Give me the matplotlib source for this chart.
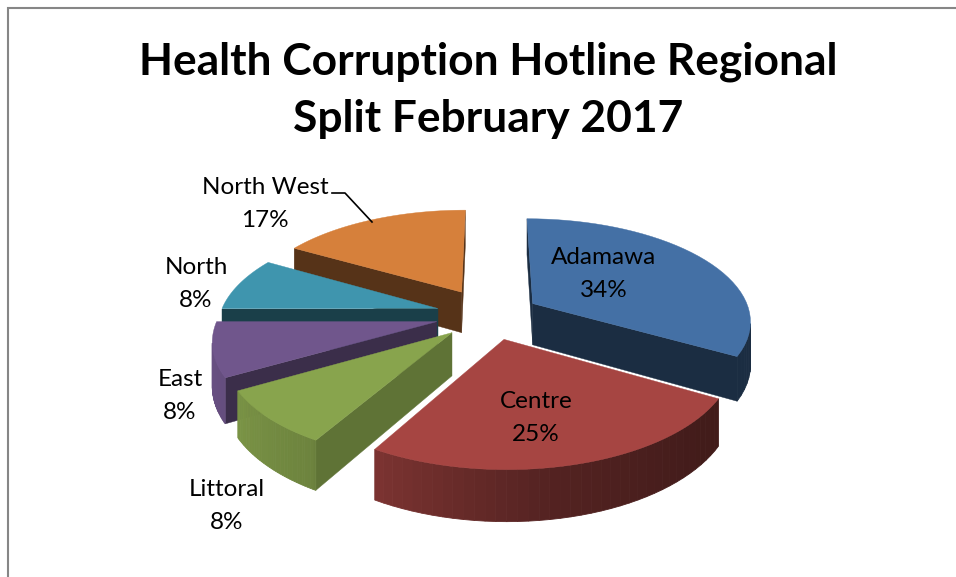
import matplotlib
matplotlib.use("Agg")
import matplotlib.pyplot as plt
import matplotlib.colors as mcolors
import numpy as np

# Data
regions = ['Adamawa', 'Centre', 'Littoral', 'East', 'North', 'North West']
share_labels = [34, 25, 8, 8, 8, 17]
slice_sizes = [4, 3, 1, 1, 1, 2]
title_lines = ['Health Corruption Hotline Regional', 'Split February 2017']

# Styling
top_colors = ['#4470A5', '#A64542', '#88A44D', '#70568C', '#3F95AE', '#D6803B']
side_factor = [0.40, 0.40, 0.70, 0.53, 0.42, 0.40]
explode = [0.23, 0.24, 0.24, 0.25, 0.25, 0.27]
# label position in pixels, one per slice
label_pos = [(604, 274), (536, 418), (227, 506), (180, 396), (196, 284), (265, 204)]

W, H = 956, 577
CX, CY = 490, 315      # pie centre on the page
R = 218                # pie radius
SQUASH = 0.465         # vertical squash of the tilted pie
PERSP = 6.4            # perspective distance, in radii
THICK = 42             # height of the pie


def project(u, v, z=0.0):
    # u is right, v is away from viewer, both in radii
    s = PERSP / (PERSP + v)
    return CX + u * s * R, CY - v * SQUASH * s * R + z * THICK * s


def shade(color, f):
    return tuple(np.array(mcolors.to_rgb(color)) * f)


def wall_shade(a):
    # brightness of the outer wall, read round the pie
    return np.interp(a, [90, 130, 170, 209, 211, 240, 270], [0.40, 0.40, 0.50, 0.74, 0.80, 0.90, 0.95])


def area(p):
    x, y = np.array(p).T
    return 0.5 * np.sum(x * np.roll(y, -1) - np.roll(x, -1) * y)


fig = plt.figure(figsize=(W / 100, H / 100), dpi=100)
ax = fig.add_axes([0, 0, 1, 1])
ax.set_xlim(0, W)
ax.set_ylim(H, 0)
ax.axis('off')

# chart frame, only left and top are on the page
ax.plot([8, 8, W], [H, 8, 8], color='#868686', lw=1.5, solid_joinstyle='miter', zorder=1)

fractions = np.array(slice_sizes) / sum(slice_sizes)
ends = np.cumsum(fractions) * 360
starts = ends - fractions * 360

# back slices first
draw_order = [5, 4, 0, 3, 2, 1]
for rank, i in enumerate(draw_order):
    a0, a1 = starts[i], ends[i]
    mid = np.radians((a0 + a1) / 2)
    # explode moves the apex along the slice's middle angle
    ou, ov = explode[i] * np.sin(mid), explode[i] * np.cos(mid)
    angles = np.linspace(a0, a1, 40)
    rad = np.radians(angles)
    base = 10 + rank * 5

    def pt(r, a, z=0.0):
        return project(ou + r * np.sin(a), ov + r * np.cos(a), z)

    col = top_colors[i]
    # radial faces, only the ones turned towards the viewer
    for k, a in enumerate([rad[0], rad[-1]]):
        p = [pt(0, a), pt(1, a), pt(1, a, 1), pt(0, a, 1)]
        visible = area(p) < 0 if k == 0 else area(p) > 0
        if visible:
            ax.fill(*zip(*p), color=shade(col, side_factor[i]), lw=0.3, zorder=base)
    # outer wall, back part is hidden
    for j in range(len(rad) - 1):
        a_mid = (angles[j] + angles[j + 1]) / 2
        p = [pt(1, rad[j]), pt(1, rad[j + 1]), pt(1, rad[j + 1], 1), pt(1, rad[j], 1)]
        if area(p) < 0:
            ax.fill(*zip(*p), color=shade(col, wall_shade(a_mid)), lw=0.6, zorder=base + 1)
    # top
    top = [pt(0, 0)] + [pt(1, a) for a in rad]
    ax.fill(*zip(*top), color=col, lw=0.3, zorder=base + 2)

# labels
for name, share, (x, y) in zip(regions, share_labels, label_pos):
    ax.text(x, y, f'{name}\n{share}%', ha='center', va='center', fontsize=17.5,
            family=['Lato', 'DejaVu Sans'], color='black', linespacing=1.72, zorder=60)

# leader line of North West
ax.plot([332, 345, 372], [193, 193, 222], color='black', lw=1.2, zorder=60)

ax.text(488, 90, '\n'.join(title_lines), ha='center', va='center', fontsize=31.9, fontweight='bold',
        family=['Lato', 'DejaVu Sans'], color='black', linespacing=1.53, zorder=60)

fig.savefig('out.png', dpi=100)
